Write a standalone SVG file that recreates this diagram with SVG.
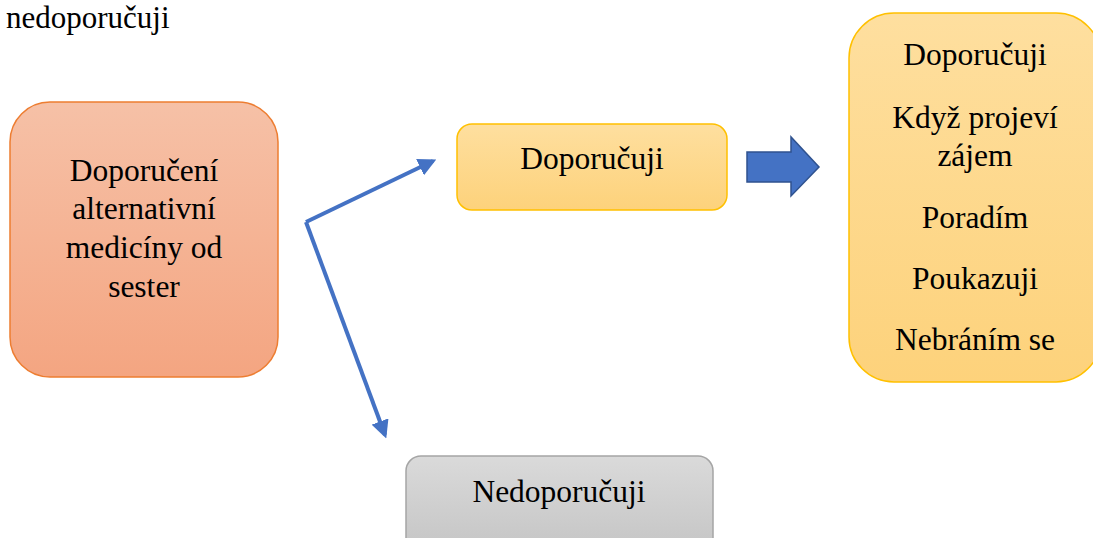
<svg xmlns="http://www.w3.org/2000/svg" width="1093" height="538" viewBox="0 0 1093 538">
<style>
text{font-family:'Liberation Serif','Times New Roman',serif;font-size:31.5px;fill:#000;text-anchor:middle}
.conn{fill:none;stroke:#4472c4;stroke-width:4}
</style>
<defs>
<linearGradient id="gO" x1="0" y1="0" x2="0" y2="1"><stop offset="0" stop-color="#f6c1a7"/><stop offset="1" stop-color="#f4a581"/></linearGradient>
<linearGradient id="gY" x1="0" y1="0" x2="0" y2="1"><stop offset="0" stop-color="#fedf9f"/><stop offset="1" stop-color="#fdd27b"/></linearGradient>
<linearGradient id="gG" x1="0" y1="0" x2="0" y2="1"><stop offset="0" stop-color="#dadada"/><stop offset="1" stop-color="#c4c4c4"/></linearGradient>
<marker id="ah" viewBox="0 0 10 10" refX="8" refY="5" markerWidth="4.5" markerHeight="4.5" orient="auto" markerUnits="strokeWidth"><path d="M0,0L10,5L0,10Z" fill="#4472c4"/></marker>
</defs>
<text x="6" y="28" style="text-anchor:start;font-size:31px">nedoporučuji</text>
<g id="source">
<rect x="10" y="102" width="268" height="275" rx="40" fill="url(#gO)" stroke="#ed7d31" stroke-width="1.5"/>
<text x="144" y="181">Doporučení</text>
<text x="144" y="219">alternativní</text>
<text x="144" y="258">medicíny od</text>
<text x="144" y="297">sester</text>
</g>
<g id="doporucuji">
<rect x="457" y="124" width="270" height="86" rx="15" fill="url(#gY)" stroke="#ffc000" stroke-width="1.5"/>
<text x="592" y="169">Doporučuji</text>
</g>
<g id="nedoporucuji">
<rect x="406" y="456" width="307" height="100" rx="15" fill="url(#gG)" stroke="#a5a5a5" stroke-width="1.5"/>
<text x="559" y="502">Nedoporučuji</text>
</g>
<g id="details">
<rect x="849" y="13" width="252" height="369" rx="45" fill="url(#gY)" stroke="#ffc000" stroke-width="1.5"/>
<text x="975" y="65">Doporučuji</text>
<text x="975" y="128">Když projeví</text>
<text x="975" y="166">zájem</text>
<text x="975" y="228">Poradím</text>
<text x="975" y="289">Poukazuji</text>
<text x="975" y="350">Nebráním se</text>
</g>
<g id="connectors">
<line class="conn" x1="306" y1="222" x2="433" y2="161" marker-end="url(#ah)"/>
<line class="conn" x1="306" y1="222" x2="385" y2="435" marker-end="url(#ah)"/>
<path d="M747,152H791V137L819,167L791,196V182H747Z" fill="#4472c4" stroke="#2f528f" stroke-width="1.5"/>
</g>
</svg>
